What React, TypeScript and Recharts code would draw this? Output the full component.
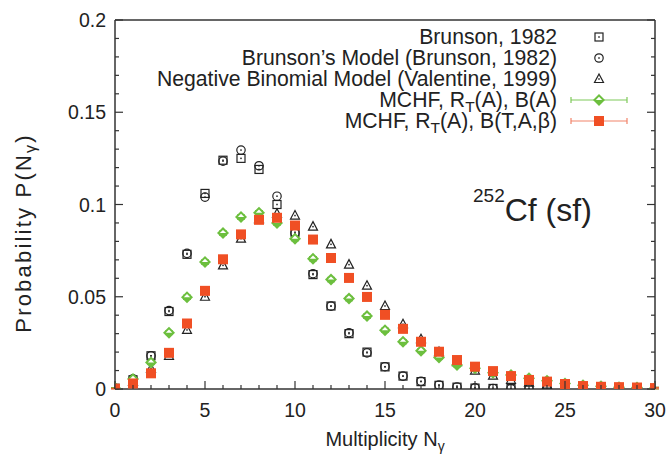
import React from 'react';
import {
  ScatterChart,
  Scatter,
  XAxis,
  YAxis,
  ErrorBar,
  Legend,
  Customized,
} from 'recharts';

// multiplicity N_gamma, 0..30
const multiplicity = [
  0, 1, 2, 3, 4, 5, 6, 7, 8, 9, 10, 11, 12, 13, 14, 15, 16, 17, 18, 19, 20,
  21, 22, 23, 24, 25, 26, 27, 28, 29, 30,
];

// Brunson, 1982 (measured), N = 0..26
const brunsonData = [
  0.0004, 0.005, 0.018, 0.042, 0.073, 0.106, 0.124, 0.125, 0.119, 0.1, 0.085,
  0.062, 0.045, 0.030, 0.020, 0.012, 0.007, 0.004, 0.002, 0.001, 0.0005,
  0.0003, 0.0002, 0.0001, 0.0001, 0.0001, 0.0001,
];

// Brunson's model, N = 0..24
const brunsonModel = [
  0.0004, 0.0055, 0.018, 0.0425, 0.0735, 0.104, 0.1235, 0.1295, 0.121,
  0.1045, 0.0845, 0.0625, 0.0449, 0.0305, 0.0196, 0.0121, 0.007, 0.0042,
  0.0022, 0.0011, 0.0006, 0.0003, 0.0002, 0.0001, 0.0001,
];

// negative binomial model (Valentine, 1999)
const negBinomial = [
  0.0005, 0.004, 0.011, 0.018, 0.032, 0.05, 0.067, 0.0815, 0.092, 0.095,
  0.094, 0.088, 0.0784, 0.0674, 0.056, 0.045, 0.0351, 0.027, 0.02, 0.0145,
  0.01, 0.0072, 0.005, 0.0035, 0.0024, 0.0016, 0.001, 0.0007, 0.0005, 0.0003,
  0.0002,
];

// MCHF, R_T(A), B(A)
const mchfA = [
  0.0005, 0.0054, 0.0144, 0.0305, 0.0497, 0.0688, 0.0845, 0.0932, 0.0955,
  0.09, 0.0815, 0.0706, 0.0593, 0.049, 0.0395, 0.0319, 0.0256, 0.0207,
  0.0171, 0.013, 0.0112, 0.0088, 0.0076, 0.0058, 0.0045, 0.003, 0.002,
  0.0015, 0.001, 0.0008, 0.0005,
];
const mchfAErr = [
  0.0003, 0.0008, 0.001, 0.001, 0.0012, 0.0012, 0.0012, 0.0012, 0.0012,
  0.0012, 0.0012, 0.0012, 0.0012, 0.0012, 0.0012, 0.0011, 0.0011, 0.001,
  0.001, 0.001, 0.001, 0.0009, 0.0009, 0.0009, 0.0008, 0.0008, 0.0007,
  0.0007, 0.0006, 0.0005, 0.0005,
];

// MCHF, R_T(A), B(T,A,beta)
const mchfTAB = [
  0.0002, 0.003, 0.0085, 0.0196, 0.0355, 0.0532, 0.0703, 0.0838, 0.0917,
  0.0928, 0.0886, 0.081, 0.071, 0.0602, 0.0499, 0.0402, 0.0326, 0.0256,
  0.0202, 0.0157, 0.0121, 0.0097, 0.007, 0.0049, 0.004, 0.0027, 0.0016,
  0.0012, 0.001, 0.0008, 0.0005,
];
const mchfTABErr = [
  0.0002, 0.0006, 0.0008, 0.001, 0.001, 0.0011, 0.0011, 0.0011, 0.0011,
  0.0011, 0.0011, 0.0011, 0.0011, 0.0011, 0.001, 0.001, 0.001, 0.001,
  0.0009, 0.0009, 0.0009, 0.0008, 0.0008, 0.0007, 0.0007, 0.0006, 0.0006,
  0.0005, 0.0005, 0.0004, 0.0004,
];

const xTickLabels = [0, 5, 10, 15, 20, 25, 30];
const yTickLabels = [0, 0.05, 0.1, 0.15, 0.2];

const xTicks = multiplicity;
const yTicks = Array.from({ length: 21 }, (_, i) => i / 100);

const FONT = '"Liberation Sans", Arial, Helvetica, sans-serif';
const INK = '#222';
const AXIS = '#333';
const GREEN = '#6cbf3e';
const RED = '#f04f24';

const toPoints = (values: number[], errors?: number[]) =>
  values.map((y, i) => ({ x: multiplicity[i], y, err: errors ? errors[i] : 0 }));

// ---- markers ----
const OpenSquare = ({ cx, cy }: any) => (
  <g>
    <rect x={cx - 4} y={cy - 4} width={8} height={8} fill="none" stroke={INK} strokeWidth={1.2} />
    <rect x={cx - 0.75} y={cy - 0.75} width={1.5} height={1.5} fill={INK} />
  </g>
);

const OpenCircle = ({ cx, cy }: any) => (
  <g>
    <circle cx={cx} cy={cy} r={4.2} fill="none" stroke={INK} strokeWidth={1.2} />
    <rect x={cx - 0.75} y={cy - 0.75} width={1.5} height={1.5} fill={INK} />
  </g>
);

const OpenTriangle = ({ cx, cy }: any) => (
  <g>
    <polygon
      points={`${cx - 4.5},${cy + 3.5} ${cx + 4.5},${cy + 3.5} ${cx},${cy - 5}`}
      fill="none"
      stroke={INK}
      strokeWidth={1.2}
    />
    <rect x={cx - 0.75} y={cy - 0.75} width={1.5} height={1.5} fill={INK} />
  </g>
);

const HalfDiamond = ({ cx, cy }: any) => (
  <g>
    <polygon
      points={`${cx - 6},${cy} ${cx},${cy - 6} ${cx + 6},${cy} ${cx},${cy + 6}`}
      fill={GREEN}
    />
    <polygon
      points={`${cx - 3.2},${cy} ${cx},${cy - 3.2} ${cx + 3.2},${cy}`}
      fill="#fff"
    />
  </g>
);

const FilledSquare = ({ cx, cy }: any) => (
  <rect x={cx - 5} y={cy - 5} width={10} height={10} fill={RED} />
);

const series = [
  { name: 'Brunson, 1982', points: toPoints(brunsonData), Shape: OpenSquare },
  { name: 'Brunson\u2019s Model (Brunson, 1982)', points: toPoints(brunsonModel), Shape: OpenCircle },
  { name: 'Negative Binomial Model (Valentine, 1999)', points: toPoints(negBinomial), Shape: OpenTriangle },
];

// ---- ticks: labelled majors, short minors, pointing into the plot ----
const isMajorY = (v: number) => Math.round(v * 100) % 5 === 0;
const isMajorX = (v: number) => v % 5 === 0;

const LeftTick = ({ x, y, payload }: any) => {
  const major = isMajorY(payload.value);
  return (
    <g>
      <line x1={x} x2={x + (major ? 8 : 4)} y1={y} y2={y} stroke={AXIS} strokeWidth={1.2} />
      {yTickLabels.includes(payload.value) && (
        <text x={x - 9} y={y} dy={7} textAnchor="end" fontSize={19.5} fontFamily={FONT} fill={INK}>
          {String(payload.value)}
        </text>
      )}
    </g>
  );
};

const RightTick = ({ x, y, payload }: any) => {
  const major = isMajorY(payload.value);
  return <line x1={x} x2={x - (major ? 8 : 4)} y1={y} y2={y} stroke={AXIS} strokeWidth={1.2} />;
};

const BottomTick = ({ x, y, payload }: any) => {
  const major = isMajorX(payload.value);
  return (
    <g>
      <line x1={x} x2={x} y1={y} y2={y - (major ? 8 : 4)} stroke={AXIS} strokeWidth={1.2} />
      {xTickLabels.includes(payload.value) && (
        <text x={x} y={y + 28} textAnchor="middle" fontSize={19.5} fontFamily={FONT} fill={INK}>
          {String(payload.value)}
        </text>
      )}
    </g>
  );
};

const TopTick = ({ x, y, payload }: any) => {
  const major = isMajorX(payload.value);
  return <line x1={x} x2={x} y1={y} y2={y + (major ? 8 : 4)} stroke={AXIS} strokeWidth={1.2} />;
};

// ---- legend, right-aligned text with the marker sample on the right ----
const legendRows = [
  { label: 'Brunson, 1982', Shape: OpenSquare },
  { label: 'Brunson\u2019s Model (Brunson, 1982)', Shape: OpenCircle },
  { label: 'Negative Binomial Model (Valentine, 1999)', Shape: OpenTriangle },
  { label: 'B(A)', Shape: HalfDiamond, bar: '#7fc95a' },
  { label: 'B(T,A,\u03b2)', Shape: FilledSquare, bar: '#f2846a' },
];

const LegendBox = () => (
  <svg width={667} height={140} style={{ display: 'block' }}>
    {legendRows.map((row, i) => {
      const y = 37 + i * 21;
      const Shape = row.Shape;
      const mchf = i >= 3;
      return (
        <g key={i}>
          <text x={557} y={y + 7} textAnchor="end" fontSize={21.2} fontFamily={FONT} fill={INK}>
            {mchf ? (
              <>
                <tspan>MCHF, R</tspan>
                <tspan fontSize={15.5} dy={5}>T</tspan>
                <tspan dy={-5}>(A), {row.label}</tspan>
              </>
            ) : (
              row.label
            )}
          </text>
          {row.bar && (
            <g stroke={row.bar} strokeWidth={1.2}>
              <line x1={571} x2={627} y1={y} y2={y} />
              <line x1={571} x2={571} y1={y - 3} y2={y + 3} />
              <line x1={627} x2={627} y1={y - 3} y2={y + 3} />
            </g>
          )}
          <Shape cx={599} cy={y} />
        </g>
      );
    })}
  </svg>
);

// ---- axis titles and the annotation ----
const Annotations = () => (
  <g fontFamily={FONT} fill={INK}>
    <text x={385} y={446} textAnchor="middle" fontSize={20}>
      Multiplicity N
      <tspan fontSize={14} dy={5}>{'\u03b3'}</tspan>
    </text>
    <text
      transform="translate(31,233) rotate(-90)"
      textAnchor="middle"
      fontSize={22}
      letterSpacing={2.2}
    >
      Probability P(N
      <tspan fontSize={16} dy={5}>{'\u03b3'}</tspan>
      <tspan dy={-5}>)</tspan>
    </text>
    <text x={473} y={202} fontSize={19}>
      252
      <tspan fontSize={32} dy={19}>Cf (sf)</tspan>
    </text>
  </g>
);

export default function App() {
  return (
    <div style={{ position: 'absolute', left: 0, top: 0, width: 667, height: 454, background: '#fff' }}>
      <ScatterChart width={667} height={454} margin={{ top: 19, right: 11, bottom: 64, left: 114 }}>
        <XAxis
          xAxisId="bottom"
          type="number"
          dataKey="x"
          domain={[0, 30]}
          ticks={xTicks}
          interval={0}
          height={1}
          tickSize={0}
          tickMargin={0}
          tick={<BottomTick />}
          axisLine={{ stroke: AXIS, strokeWidth: 1.5 }}
          allowDataOverflow
        />
        <XAxis
          xAxisId="top"
          orientation="top"
          type="number"
          domain={[0, 30]}
          ticks={xTicks}
          interval={0}
          height={1}
          tickSize={0}
          tickMargin={0}
          tick={<TopTick />}
          axisLine={{ stroke: AXIS, strokeWidth: 1.5 }}
          allowDataOverflow
        />
        <YAxis
          yAxisId="left"
          type="number"
          dataKey="y"
          domain={[0, 0.2]}
          ticks={yTicks}
          interval={0}
          width={1}
          tickSize={0}
          tickMargin={0}
          tick={<LeftTick />}
          axisLine={{ stroke: AXIS, strokeWidth: 1.5 }}
          allowDataOverflow
        />
        <YAxis
          yAxisId="right"
          orientation="right"
          type="number"
          domain={[0, 0.2]}
          ticks={yTicks}
          interval={0}
          width={1}
          tickSize={0}
          tickMargin={0}
          tick={<RightTick />}
          axisLine={{ stroke: AXIS, strokeWidth: 1.5 }}
          allowDataOverflow
        />
        <Legend
          layout="horizontal"
          verticalAlign="middle"
          align="center"
          content={<LegendBox />}
          wrapperStyle={{ position: 'absolute', left: 0, top: 0, width: 667, height: 140, pointerEvents: 'none' }}
        />
        {series.map((s) => (
          <Scatter
            key={s.name}
            name={s.name}
            data={s.points}
            xAxisId="bottom"
            yAxisId="left"
            shape={<s.Shape />}
            isAnimationActive={false}
          />
        ))}
        <Scatter
          name="MCHF, RT(A), B(A)"
          data={toPoints(mchfA, mchfAErr)}
          xAxisId="bottom"
          yAxisId="left"
          shape={<HalfDiamond />}
          isAnimationActive={false}
        >
          <ErrorBar dataKey="err" direction="y" width={4} stroke={GREEN} strokeWidth={1} />
        </Scatter>
        <Scatter
          name="MCHF, RT(A), B(T,A,beta)"
          data={toPoints(mchfTAB, mchfTABErr)}
          xAxisId="bottom"
          yAxisId="left"
          shape={<FilledSquare />}
          isAnimationActive={false}
        >
          <ErrorBar dataKey="err" direction="y" width={4} stroke={RED} strokeWidth={1} />
        </Scatter>
        <Customized component={Annotations} />
      </ScatterChart>
    </div>
  );
}
